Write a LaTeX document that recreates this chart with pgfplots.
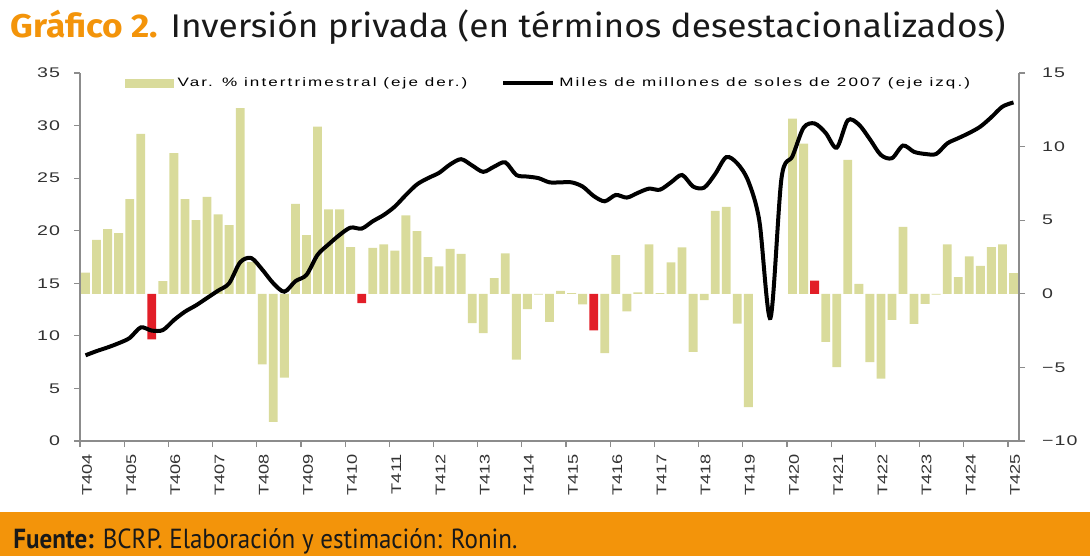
\documentclass[border=0pt]{standalone}
\usepackage{pgfplots}
\usepackage{pgfplotstable}
\pgfplotsset{compat=1.18}
\usepackage{fontspec}
\setmainfont{PT Sans}
\newfontfamily\titlefont{Fira Sans}
\newfontfamily\chartfont[FakeStretch=1.3]{Liberation Sans}
\newfontfamily\ytfont[FakeStretch=1.4,LetterSpace=8]{Liberation Sans}
\newfontfamily\legfont[FakeStretch=1.4,LetterSpace=17]{Liberation Sans}
\definecolor{barc}{RGB}{217,219,155}
\definecolor{barred}{RGB}{226,30,40}
\definecolor{orng}{RGB}{243,148,10}
\definecolor{axgray}{RGB}{140,140,140}
\definecolor{txtgray}{RGB}{50,50,50}

\pgfplotstableread{
x y
0 1.43
1 3.67
2 4.39
3 4.12
4 6.43
5 10.87
7 0.86
8 9.56
9 6.43
10 5.0
11 6.59
12 5.39
13 4.66
14 12.61
15 2.15
16 -4.8
17 -8.7
18 -5.7
19 6.11
20 3.99
21 11.35
22 5.73
23 5.73
24 3.17
26 3.12
27 3.35
28 2.94
29 5.32
30 4.26
31 2.49
32 1.86
33 3.06
34 2.72
35 -2.0
36 -2.67
37 1.06
38 2.74
39 -4.48
40 -1.04
41 -0.05
42 -1.9
43 0.2
44 0.05
45 -0.72
47 -4.03
48 2.63
49 -1.2
50 0.1
51 3.35
52 0.05
53 2.13
54 3.15
55 -3.94
56 -0.43
57 5.64
58 5.91
59 -2.02
60 -7.70
64 11.9
65 10.2
67 -3.26
68 -4.98
69 9.1
70 0.68
71 -4.64
72 -5.77
73 -1.77
74 4.55
75 -2.04
76 -0.68
77 -0.05
78 3.35
79 1.13
80 2.54
81 1.9
82 3.17
83 3.35
84 1.4
}\bars

\pgfplotstableread{
x y
6 -3.10
25 -0.63
46 -2.49
66 0.9
}\redbars

\pgfplotstableread{
x y
0 8.15
1 8.55
2 8.9
3 9.3
4 9.8
5 10.8
6 10.5
7 10.55
8 11.5
9 12.3
10 12.9
11 13.6
12 14.3
13 15.0
14 17.0
15 17.4
16 16.3
17 15.0
18 14.2
19 15.2
20 15.8
21 17.7
22 18.7
23 19.6
24 20.3
25 20.2
26 20.9
27 21.5
28 22.3
29 23.4
30 24.4
31 25.0
32 25.5
33 26.3
34 26.8
35 26.2
36 25.6
37 26.1
38 26.5
39 25.3
40 25.15
41 25.0
42 24.6
43 24.6
44 24.6
45 24.2
46 23.3
47 22.8
48 23.4
49 23.15
50 23.6
51 24.0
52 23.9
53 24.6
54 25.3
55 24.2
56 24.1
57 25.4
58 27.0
59 26.4
60 24.7
61 20.9
62 11.7
63 25.0
64 27.1
65 29.8
66 30.2
67 29.3
68 27.9
69 30.5
70 30.1
71 28.7
72 27.2
73 26.9
74 28.1
75 27.5
76 27.3
77 27.3
78 28.3
79 28.8
80 29.3
81 29.9
82 30.8
83 31.8
84 32.2
}\inv

\begin{document}
\begin{tikzpicture}
\useasboundingbox (0,0) rectangle (545pt,278pt);
\fill[orng] (0,0) rectangle (545pt,22pt);
\node[anchor=base west, inner sep=0pt] at (6.5pt,4pt)
  {\resizebox{252pt}{\height}{\fontsize{13.8}{16}\selectfont\color{black!90}\textbf{Fuente:} BCRP. Elaboración y estimación: Ronin.}};
\node[anchor=base west, inner sep=0pt] at (5pt,259pt)
  {\resizebox{497.5pt}{\height}{\titlefont\fontsize{16.4}{20}\selectfont\textcolor{orng}{\textbf{Gráfico 2.}} \color{black!90}Inversión privada (en términos desestacionalizados)}};

\begin{axis}[
  at={(40pt,57.5pt)}, anchor=south west,
  scale only axis, width=469.5pt, height=184pt,
  xmin=-0.5, xmax=84.5, ymin=-10, ymax=15,
  axis y line*=right, axis x line*=bottom,
  axis line style={axgray, line width=0.6pt},
  tick style={axgray, line width=0.6pt},
  tick align=outside, major tick length=3pt,
  ytick={-10,-5,0,5,10,15},
  yticklabels={−10,−5,0,5,10,15},
  xtick={-0.5,3.5,...,83.5},
  xticklabels={T404,T405,T406,T407,T408,T409,T410,T411,T412,T413,T414,T415,T416,T417,T418,T419,T420,T421,T422,T423,T424,T425},
  xticklabel style={font=\chartfont\fontsize{7}{8}\selectfont, text=txtgray, rotate=90, anchor=east, yshift=-3.5pt},
  yticklabel style={font=\ytfont\fontsize{7}{8}\selectfont, text=txtgray, xshift=5pt},
  clip=false,
]
\addplot[ybar, bar width=0.8, bar shift=0pt, fill=barc, draw=none] table[x=x,y=y] {\bars};
\addplot[ybar, bar width=0.8, bar shift=0pt, fill=barred, draw=none] table[x=x,y=y] {\redbars};
\end{axis}

\begin{axis}[
  at={(40pt,57.5pt)}, anchor=south west,
  scale only axis, width=469.5pt, height=184pt,
  xmin=-0.5, xmax=84.5, ymin=0, ymax=35,
  axis y line*=left, axis x line=none,
  axis line style={axgray, line width=0.6pt},
  tick style={axgray, line width=0.6pt},
  tick align=outside, major tick length=3pt,
  ytick={0,5,10,15,20,25,30,35},
  yticklabels={0,5,10,15,20,25,30,35},
  yticklabel style={font=\ytfont\fontsize{7}{8}\selectfont, text=txtgray, xshift=-3.5pt},
  legend columns=2,
  legend cell align=left,
  legend style={draw=none, fill=none, at={(0.5,1.005)}, anchor=north,
    font=\legfont\fontsize{6.1}{7}\selectfont, inner sep=1pt,
    /tikz/every even column/.append style={column sep=15pt}},
]
\addlegendimage{legend image code/.code={\fill[barc] (0pt,-2pt) rectangle (24pt,2pt);}}
\addlegendentry{Var. \% intertrimestral (eje der.)}
\addplot[black, line width=2pt, smooth, tension=0.5,
  legend image code/.code={\draw[black, line width=2pt] (0pt,0pt) -- (25pt,0pt);}] table[x=x,y=y] {\inv};
\addlegendentry{Miles de millones de soles de 2007 (eje izq.)}
\end{axis}
\end{tikzpicture}
\end{document}
